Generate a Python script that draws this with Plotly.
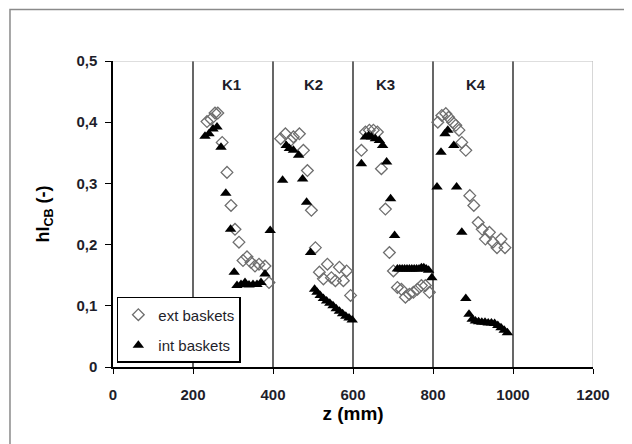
import plotly.graph_objects as go

# ext baskets (open diamonds)
ext_z = [235, 245, 255, 262, 273, 285, 295, 305, 315, 325, 335, 345, 355, 365, 380, 390,
         419, 431, 444, 451, 466, 476, 486, 496, 506, 516, 526, 536, 546, 556, 566, 576, 584, 594,
         621, 631, 641, 651, 661, 671, 681, 691, 701, 711, 721, 731, 741, 751, 761, 771, 781, 791,
         812, 822, 832, 839, 849, 857, 865, 872, 882, 892, 902, 913, 923, 931, 941, 950, 960, 970, 980]
ext_h = [0.401, 0.405, 0.415, 0.415, 0.367, 0.318, 0.264, 0.225, 0.204, 0.174, 0.180, 0.171, 0.165, 0.168, 0.165, 0.138,
         0.373, 0.381, 0.370, 0.376, 0.381, 0.354, 0.321, 0.256, 0.195, 0.155, 0.144, 0.168, 0.146, 0.141, 0.163, 0.141, 0.157, 0.117,
         0.354, 0.384, 0.387, 0.387, 0.384, 0.324, 0.258, 0.187, 0.157, 0.130, 0.127, 0.114, 0.119, 0.122, 0.127, 0.133, 0.133, 0.122,
         0.400, 0.411, 0.414, 0.408, 0.400, 0.395, 0.387, 0.367, 0.354, 0.280, 0.264, 0.236, 0.225, 0.209, 0.220, 0.204, 0.195, 0.209, 0.195]

# int baskets (filled triangles)
int_z = [230, 240, 250, 260, 270, 282, 294, 303, 310, 320, 330, 340, 350, 360, 370, 380, 393,
         424, 433, 441, 451, 464, 474, 484, 494, 504, 510, 518, 526, 534, 542, 550, 558, 566, 574, 582, 590, 598,
         621, 631, 639, 646, 656, 666, 674, 684, 694, 704, 711, 717, 723, 729, 735, 741, 747, 753, 759, 765, 771, 777, 783, 789, 797,
         810, 820, 830, 837, 852, 859, 872, 882, 890, 898, 906, 914, 922, 930, 938, 946, 954, 962, 970, 978, 986]
int_h = [0.377, 0.381, 0.389, 0.392, 0.359, 0.284, 0.225, 0.155, 0.133, 0.135, 0.138, 0.134, 0.135, 0.135, 0.138, 0.152, 0.223,
         0.305, 0.362, 0.357, 0.354, 0.346, 0.307, 0.269, 0.187, 0.127, 0.122, 0.117, 0.112, 0.108, 0.104, 0.100, 0.095, 0.091, 0.087, 0.083, 0.080, 0.077,
         0.332, 0.376, 0.378, 0.376, 0.373, 0.370, 0.362, 0.335, 0.275, 0.215, 0.160, 0.160, 0.160, 0.160, 0.160, 0.160, 0.160, 0.160, 0.160, 0.160, 0.162, 0.162, 0.160, 0.158, 0.146,
         0.294, 0.351, 0.381, 0.387, 0.362, 0.294, 0.220, 0.112, 0.086, 0.078, 0.075, 0.074, 0.073, 0.073, 0.072, 0.072, 0.071, 0.068, 0.064, 0.060, 0.056]

section_edges = [200, 400, 600, 800, 1000]
section_labels = ["K1", "K2", "K3", "K4"]
section_label_z = [296, 501, 682, 908]
section_label_h = 0.461

x_ticks = [0, 200, 400, 600, 800, 1000, 1200]
y_ticks = [0, 0.1, 0.2, 0.3, 0.4, 0.5]
y_ticktext = ["0", "0,1", "0,2", "0,3", "0,4", "0,5"]

FONT = "Liberation Sans, Arial, sans-serif"
TXT = "#1e1e2a"

fig = go.Figure()
fig.add_trace(go.Scatter(
    x=ext_z, y=ext_h, mode="markers", name="ext baskets", legendgroup="a",
    marker=dict(symbol="diamond-open", size=9, color="#6e6e6e", line=dict(width=1.3)),
))
fig.add_trace(go.Scatter(
    x=int_z, y=int_h, mode="markers", name="int baskets", legendgroup="b",
    marker=dict(symbol="triangle-up", size=10, color="black"),
))

shapes = []
for e in section_edges:
    shapes.append(dict(type="line", xref="x", yref="y", x0=e, x1=e, y0=0, y1=0.5,
                       line=dict(color="black", width=1.2), layer="below"))
# plot area top / right border (light gray)
shapes.append(dict(type="line", xref="x", yref="y", x0=0, x1=1200, y0=0.5, y1=0.5,
                   line=dict(color="#bdbdbd", width=1.2), layer="below"))
shapes.append(dict(type="line", xref="x", yref="y", x0=1200, x1=1200, y0=0, y1=0.5,
                   line=dict(color="#bdbdbd", width=1.2), layer="below"))
# outer chart frame
shapes.append(dict(type="rect", xref="paper", yref="paper", x0=-0.2146, x1=1.3, y0=-0.4, y1=1.168,
                   line=dict(color="#8a8a8a", width=1.5), layer="below"))

annotations = [dict(x=z, y=section_label_h, xref="x", yref="y", text="<b>%s</b>" % t,
                    showarrow=False, font=dict(family=FONT, size=15, color=TXT))
               for z, t in zip(section_label_z, section_labels)]

fig.update_layout(
    width=624, height=436,
    margin=dict(l=105, r=39, t=53, b=77),
    paper_bgcolor="white", plot_bgcolor="white",
    font=dict(family=FONT, color=TXT),
    shapes=shapes, annotations=annotations,
    showlegend=True,
    legend=dict(x=0.008, y=0.229, xanchor="left", yanchor="top",
                bordercolor="black", borderwidth=1.5, bgcolor="white",
                font=dict(family=FONT, size=15, color=TXT),
                traceorder="grouped", tracegroupgap=8,
                itemwidth=30),
    xaxis=dict(range=[0, 1200], tickvals=x_ticks, ticktext=[str(v) for v in x_ticks],
               showgrid=False, zeroline=False, showline=True, linecolor="black", linewidth=1.5,
               ticks="outside", ticklen=5, tickcolor="black", ticklabelstandoff=8,
               tickfont=dict(family=FONT, size=15, color=TXT, weight="bold"),
               title=dict(text="<b>z (mm)</b>", font=dict(family=FONT, size=19, color="black"), standoff=4)),
    yaxis=dict(range=[0, 0.5], tickvals=y_ticks, ticktext=y_ticktext,
               showgrid=False, zeroline=False, showline=True, linecolor="black", linewidth=1.5,
               ticks="outside", ticklen=6, tickcolor="black", ticklabelstandoff=5,
               tickfont=dict(family=FONT, size=15, color=TXT, weight="bold"),
               title=dict(text="<b>hl<sub>CB</sub> (-)</b>", font=dict(family=FONT, size=18, color="black"), standoff=22)),
)

fig.write_html("out.html")
